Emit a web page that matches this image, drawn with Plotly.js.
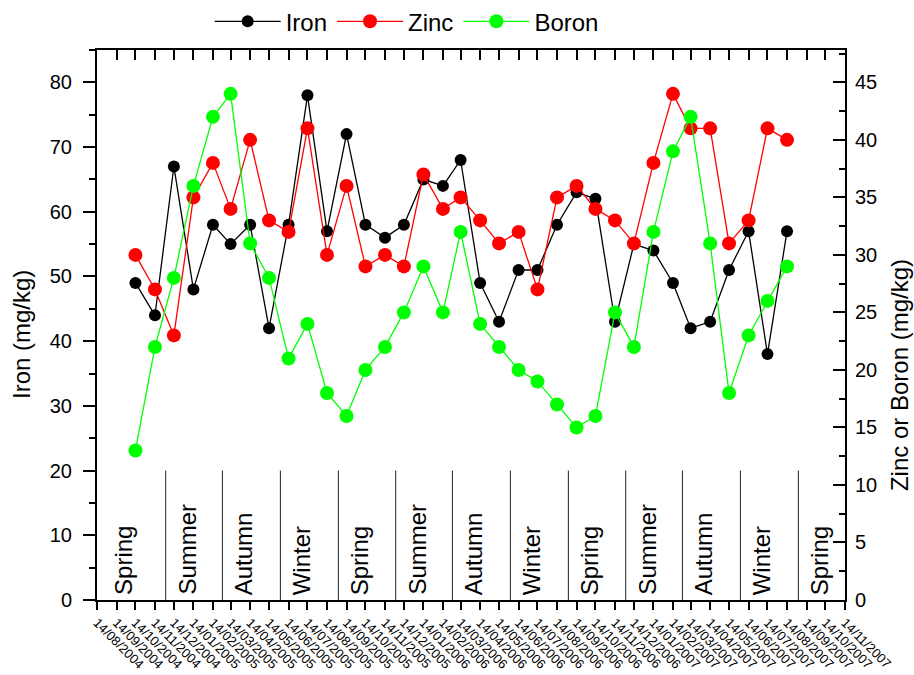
<!DOCTYPE html>
<html>
<head>
<meta charset="utf-8">
<script src="https://cdn.plot.ly/plotly-3.0.1.min.js"></script>
<style>html,body{margin:0;padding:0;background:#fff;}#chart{width:914px;height:675px;}</style>
</head>
<body>
<div id="chart"></div>
<script>
// ---- data ----
const sampleDates = [
  '2004-10-14','2004-11-14','2004-12-14',
  '2005-01-14','2005-02-14','2005-03-14','2005-04-14','2005-05-14','2005-06-14',
  '2005-07-14','2005-08-14','2005-09-14','2005-10-14','2005-11-14','2005-12-14',
  '2006-01-14','2006-02-14','2006-03-14','2006-04-14','2006-05-14','2006-06-14',
  '2006-07-14','2006-08-14','2006-09-14','2006-10-14','2006-11-14','2006-12-14',
  '2007-01-14','2007-02-14','2007-03-14','2007-04-14','2007-05-14','2007-06-14',
  '2007-07-14','2007-08-14'
];
const iron  = [49,44,67,48,58,55,58,42,58,78,57,72,58,56,58,65,64,68,49,43,51,51,58,63,62,43,55,54,49,42,43,51,57,38,57];
const zinc  = [30,27,23,35,38,34,40,33,32,41,30,36,29,30,29,37,34,35,33,31,32,27,35,36,34,33,31,38,44,41,41,31,33,41,40];
const boron = [13,22,28,36,42,44,31,28,21,24,18,16,20,22,25,29,25,32,24,22,20,19,17,15,16,25,22,32,39,42,31,18,23,26,29];

const seasonNames  = ['Spring','Summer','Autumn','Winter','Spring','Summer','Autumn','Winter','Spring','Summer','Autumn','Winter','Spring'];
const seasonStarts = ['2004-09-01','2004-12-01','2005-03-01','2005-06-01','2005-09-01','2005-12-01',
                      '2006-03-01','2006-06-01','2006-09-01','2006-12-01','2007-03-01','2007-06-01','2007-09-01'];
const seasonEndLast = '2007-12-01';

const xStart = '2004-08-14';
const xEnd   = '2007-11-14';

// ---- chart ----
const FONT = 'Liberation Sans, Arial, Helvetica, sans-serif';
const ironMax = 85;
const rightMax = ironMax * 45 / 80;

const traces = [
  {x: sampleDates, y: iron, name: 'Iron', mode: 'lines+markers', xaxis: 'x', yaxis: 'y',
   line: {color: '#000000', width: 1.3}, marker: {color: '#000000', size: 12}},
  {x: sampleDates, y: zinc, name: 'Zinc', mode: 'lines+markers', xaxis: 'x2', yaxis: 'y2',
   line: {color: '#ff0000', width: 1.3}, marker: {color: '#ff0000', size: 14}},
  {x: sampleDates, y: boron, name: 'Boron', mode: 'lines+markers', xaxis: 'x2', yaxis: 'y2',
   line: {color: '#00ff00', width: 1.3}, marker: {color: '#00ff00', size: 14}}
];

const ms = s => new Date(s + 'T00:00:00Z').getTime();
const shapes = [];
const annotations = [];
for (let i = 0; i < seasonStarts.length; i++) {
  if (i > 0) {
    shapes.push({type: 'line', xref: 'x', yref: 'y', x0: seasonStarts[i], x1: seasonStarts[i],
                 y0: 0, y1: 20, line: {color: '#222222', width: 1}});
  }
  const a = Math.max(ms(seasonStarts[i]), ms(xStart));
  const b = i + 1 < seasonStarts.length ? ms(seasonStarts[i + 1]) : ms(seasonEndLast);
  const frac = i === 0 ? 0.27 : 0.38;
  const pos = a + frac * (b - a);
  annotations.push({xref: 'x', yref: 'y', x: new Date(pos).toISOString().slice(0, 10), y: 0,
    text: seasonNames[i], textangle: -90, showarrow: false, xanchor: 'center', yanchor: 'bottom',
    yshift: 3, font: {family: FONT, size: 24, color: '#000'}});
}
annotations.push({xref: 'paper', yref: 'paper', x: -0.1016, y: 0.4818, text: 'Iron (mg/kg)',
  textangle: -90, showarrow: false, xanchor: 'center', yanchor: 'middle',
  font: {family: FONT, size: 24, color: '#000'}});
annotations.push({xref: 'paper', yref: 'paper', x: 1.0722, y: 0.409, text: 'Zinc or Boron (mg/kg)',
  textangle: -90, showarrow: false, xanchor: 'center', yanchor: 'middle',
  font: {family: FONT, size: 24, color: '#000'}});

const layout = {
  width: 914, height: 675,
  margin: {l: 97, r: 69, t: 50, b: 75, pad: 0, autoexpand: false},
  paper_bgcolor: '#ffffff', plot_bgcolor: '#ffffff',
  font: {family: FONT, color: '#000', size: 20},
  showlegend: true,
  legend: {orientation: 'h', x: 0.414, xanchor: 'center', y: 1.0515, yanchor: 'middle',
           font: {family: FONT, size: 24, color: '#000'}, bgcolor: 'rgba(0,0,0,0)', itemwidth: 66},
  xaxis: {type: 'date', range: [xStart, xEnd], domain: [0, 1], anchor: 'y',
          tick0: xStart, dtick: 'M1', tickformat: '%d/%m/%Y', tickangle: 45,
          tickfont: {family: FONT, size: 13, color: '#000'},
          ticks: 'outside', ticklen: 8, tickwidth: 2, tickcolor: '#000',
          showline: true, linewidth: 2, linecolor: '#000', showgrid: false, zeroline: false,
          automargin: false},
  xaxis2: {type: 'date', range: [xStart, xEnd], overlaying: 'x', matches: 'x', side: 'top', anchor: 'y2',
           tick0: xStart, dtick: 'M1', ticks: 'inside', ticklen: 10, tickwidth: 2, tickcolor: '#000',
           showticklabels: false, showline: true, linewidth: 2, linecolor: '#000',
           showgrid: false, zeroline: false},
  yaxis: {range: [0, ironMax], dtick: 10, tick0: 0, ticks: 'outside', ticklen: 12, tickwidth: 2,
          tickcolor: '#000', minor: {dtick: 5, ticklen: 6, tickwidth: 2, tickcolor: '#000', ticks: 'outside'},
          tickfont: {family: FONT, size: 20, color: '#000'}, ticklabelstandoff: 7,
          showline: true, linewidth: 2, linecolor: '#000', showgrid: false, zeroline: false,
          automargin: false},
  yaxis2: {range: [0, rightMax], overlaying: 'y', side: 'right', anchor: 'x2', dtick: 5, tick0: 0,
           ticks: 'inside', ticklen: 12, tickwidth: 2, tickcolor: '#000',
           minor: {dtick: 2.5, ticklen: 6, tickwidth: 2, tickcolor: '#000', ticks: 'inside'},
           tickfont: {family: FONT, size: 20, color: '#000'}, ticklabelstandoff: 4,
           showline: true, linewidth: 2, linecolor: '#000', showgrid: false, zeroline: false,
           automargin: false},
  shapes: shapes,
  annotations: annotations
};

Plotly.newPlot('chart', traces, layout, {displayModeBar: false, staticPlot: true});
</script>
</body>
</html>
